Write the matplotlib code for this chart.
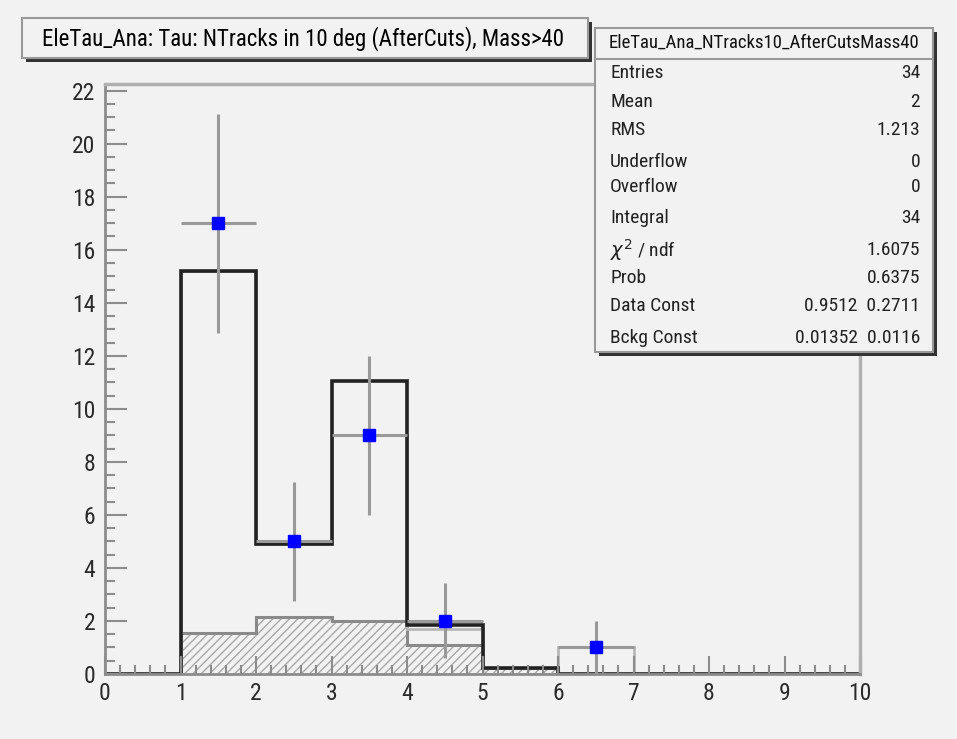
import numpy as np
import matplotlib
matplotlib.use("Agg")
import matplotlib.pyplot as plt
from matplotlib import font_manager
from matplotlib.patches import Rectangle
from matplotlib.lines import Line2D
from matplotlib.ticker import MultipleLocator

# histogram binning (NTracks in 10 deg)
edges = np.arange(0, 11)
# fitted total (black outline)
total = [0, 15.2, 4.9, 11.05, 1.85, 0.22, 0, 0, 0, 0]
# background component (hatched)
bkg = [0, 1.55, 2.15, 2.0, 1.1, 0.22, 0, 0, 0, 0]
# light gray template
sig = [0, 15.2, 4.9, 9.0, 1.7, 0, 1.0, 0, 0, 0]
# data points
data_x = [1.5, 2.5, 3.5, 4.5, 6.5]
data_y = [17, 5, 9, 2, 1]

title = "EleTau_Ana: Tau: NTracks in 10 deg (AfterCuts), Mass>40"
stats_title = "EleTau_Ana_NTracks10_AfterCutsMass40"
stats_names = ["Entries", "Mean", "RMS", "Underflow", "Overflow", "Integral",
               r"$\chi^2$ / ndf", "Prob", "Data Const", "Bckg Const"]
stats_vals = ["34", "2", "1.213", "0", "0", "34", "1.6075", "0.6375",
              "0.9512  0.2711", "0.01352  0.0116"]
stats_rows = [73, 102, 130, 162, 187, 218, 250, 278, 306, 338]


def pick_font(names):
    for n in names:
        try:
            font_manager.findfont(n, fallback_to_default=False)
            return n
        except ValueError:
            pass
    return "DejaVu Sans"


narrow = pick_font(["Liberation Sans Narrow", "Roboto Condensed", "Liberation Sans"])
plt.rcParams["font.family"] = [narrow, "DejaVu Sans"]

W, H = 957, 739
bg = "#f2f2f2"
fig = plt.figure(figsize=(W / 100, H / 100), dpi=100, facecolor=bg)


def fx(px):
    return px / W


def fy(py):
    return 1 - py / H


# frame: x 105..860, y 84..674 (pixels)
ax = fig.add_axes([fx(105), fy(674), fx(860) - fx(105), fy(84) - fy(674)])
ax.set_facecolor(bg)
ax.set_xlim(0, 10)
ax.set_ylim(0, 22.25)

ax.stairs(bkg, edges, fill=True, hatch="////", facecolor="none",
          edgecolor="#a8a8a8", linewidth=0)
ax.stairs(bkg, edges, color="#8a8a8a", linewidth=2.2)
ax.stairs(sig, edges, color="#b8b8b8", linewidth=2.0)
ax.stairs(total, edges, color="#222222", linewidth=2.6)

ax.errorbar(data_x, data_y, xerr=0.5, yerr=np.sqrt(data_y), fmt="s",
            color="#0000ff", markersize=8, ecolor="#999999", elinewidth=2.2,
            capsize=0, zorder=5)

for side in ["left", "bottom"]:
    ax.spines[side].set_color("#8c8c8c")
    ax.spines[side].set_linewidth(2.0)
for side in ["top", "right"]:
    ax.spines[side].set_color("#b0b0b0")
    ax.spines[side].set_linewidth(2.5)

ax.xaxis.set_major_locator(MultipleLocator(1))
ax.xaxis.set_minor_locator(MultipleLocator(0.2))
ax.yaxis.set_major_locator(MultipleLocator(2))
ax.yaxis.set_minor_locator(MultipleLocator(0.5))
ax.tick_params(axis="x", which="major", direction="in", length=13, width=1.5,
               color="#8c8c8c", labelsize=17, pad=6)
ax.tick_params(axis="x", which="minor", direction="in", length=6.5, width=1.5,
               color="#8c8c8c")
ax.tick_params(axis="y", which="major", direction="in", length=16, width=1.5,
               color="#8c8c8c", labelsize=17, pad=7)
ax.tick_params(axis="y", which="minor", direction="in", length=7.5, width=1.5,
               color="#8c8c8c")
ax.set_xticks(edges)
ax.set_xticklabels([str(v) for v in edges], color="#2a2a2a")
ax.set_yticks(np.arange(0, 23, 2))
ax.set_yticklabels([str(v) for v in np.arange(0, 23, 2)], color="#2a2a2a")


def pave(x0, y0, x1, y1, shadow=4):
    fig.add_artist(Rectangle((fx(x0 + shadow), fy(y1 + shadow)), fx(x1 - x0), fy(y0) - fy(y1),
                             transform=fig.transFigure, facecolor="#333333",
                             edgecolor="none", zorder=10))
    fig.add_artist(Rectangle((fx(x0), fy(y1)), fx(x1 - x0), fy(y0) - fy(y1),
                             transform=fig.transFigure, facecolor=bg,
                             edgecolor="#999999", linewidth=1.5, zorder=11))


# title pave
pave(22, 18, 588, 58)
fig.text(fx(303), fy(39), title, ha="center", va="center", fontsize=16.5,
         color="#000000", zorder=12)

# stats pave
pave(595, 28, 933, 352)
fig.add_artist(Line2D([fx(595), fx(933)], [fy(59), fy(59)], transform=fig.transFigure,
                      color="#999999", linewidth=1.5, zorder=12))
fig.text(fx(764), fy(43), stats_title, ha="center", va="center", fontsize=13.5,
         color="#111111", zorder=12)
for name, val, row in zip(stats_names, stats_vals, stats_rows):
    fig.text(fx(610), fy(row), name, ha="left", va="center", fontsize=14,
             color="#222222", zorder=12)
    fig.text(fx(920), fy(row), val, ha="right", va="center", fontsize=14,
             color="#222222", zorder=12)

fig.savefig("out.png", dpi=100, facecolor=bg)
